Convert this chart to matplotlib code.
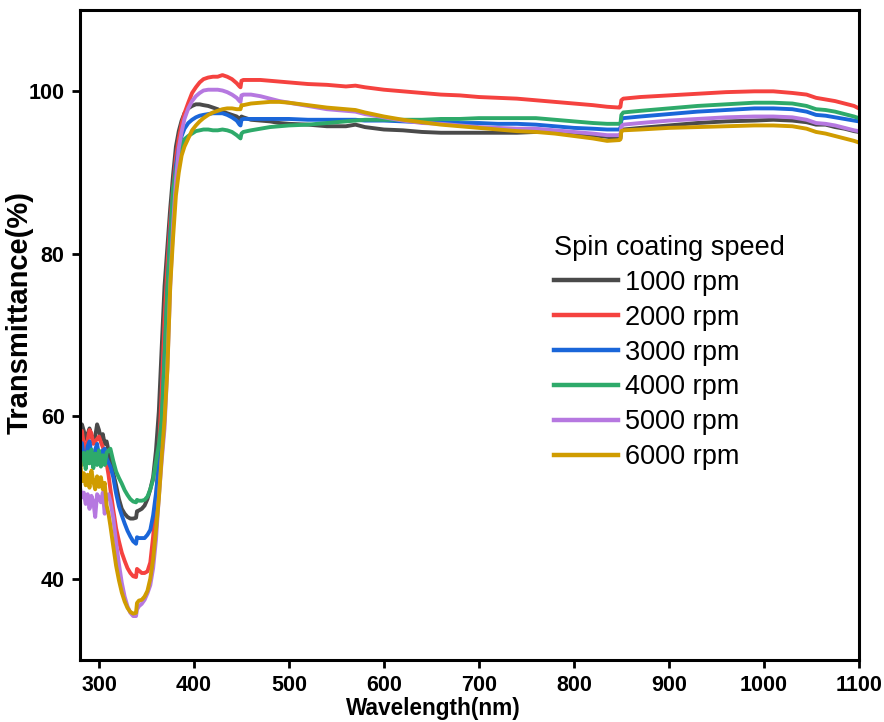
import matplotlib
matplotlib.use("Agg")
import matplotlib.pyplot as plt

# Wavelength grid (nm) shared by all spectra
wavelength = [
    280, 282, 284, 286, 288, 290, 292, 294, 296, 298,
    300, 302, 304, 306, 308, 310, 312, 315, 318, 321,
    324, 327, 330, 333, 336, 339, 340, 342, 345, 348,
    351, 354, 357, 360, 363, 366, 369, 372, 375, 378,
    381, 384, 387, 390, 394, 398, 402, 406, 410, 415,
    420, 425, 430, 435, 440, 445, 448, 449, 450, 452,
    460, 470, 480, 490, 500, 520, 540, 560, 570, 580,
    600, 620, 640, 660, 680, 700, 720, 740, 760, 780,
    800, 820, 835, 848, 849, 850, 852, 870, 900, 930,
    960, 990, 1010, 1030, 1045, 1055, 1065, 1075, 1085, 1095,
    1100,
]

# Transmittance (%) for each spin coating speed
t_1000 = [
    58.0, 59.0, 58.2, 57.2, 57.8, 58.5, 57.6, 56.9, 57.5, 59.0,
    58.3, 57.2, 57.8, 56.6, 56.9, 55.8, 54.5, 53.0, 51.5, 49.8,
    48.6, 48.0, 47.6, 47.4, 47.4, 47.5, 48.3, 48.4, 48.6, 49.0,
    49.8, 51.0, 52.5, 55.8, 60.6, 68.4, 76.0, 80.8, 85.6, 89.7,
    93.2, 95.1, 96.4, 97.3, 97.9, 98.2, 98.4, 98.4, 98.3, 98.2,
    98.0, 97.8, 97.5, 97.3, 97.1, 96.9, 96.6, 96.5, 96.9, 96.8,
    96.5, 96.4, 96.3, 96.1, 96.0, 95.9, 95.7, 95.7, 95.9, 95.6,
    95.3, 95.2, 95.0, 94.9, 94.9, 94.9, 94.9, 94.9, 95.0, 95.0,
    94.8, 94.6, 94.4, 94.2, 94.2, 95.2, 95.3, 95.5, 95.8, 96.1,
    96.3, 96.4, 96.5, 96.4, 96.2, 95.9, 95.9, 95.6, 95.4, 95.1,
    95.0,
]
t_2000 = [
    57.5, 58.2, 56.5, 55.8, 57.0, 58.3, 57.9, 56.6, 56.9, 57.2,
    57.5, 56.8, 56.2, 55.6, 54.2, 52.8, 51.0, 48.5, 46.2, 44.6,
    43.2, 42.2, 41.3, 40.7, 40.3, 40.2, 41.2, 41.0, 40.7, 40.7,
    40.9, 42.0, 45.2, 49.5, 55.5, 63.0, 72.0, 78.5, 84.0, 88.0,
    91.8, 94.2, 96.0, 97.3, 98.6, 99.8, 100.5, 101.1, 101.5, 101.7,
    101.8, 101.8, 102.0, 101.8, 101.5, 101.0, 100.6, 100.5, 101.3, 101.4,
    101.4, 101.4, 101.3, 101.2, 101.1, 100.9, 100.8, 100.6, 100.7, 100.5,
    100.2, 100.0, 99.8, 99.6, 99.5, 99.3, 99.2, 99.1, 98.9, 98.7,
    98.5, 98.3, 98.1, 98.0, 98.1, 98.9, 99.1, 99.3, 99.5, 99.7,
    99.9, 100.0, 100.0, 99.8, 99.6, 99.2, 99.0, 98.8, 98.5, 98.2,
    97.9,
]
t_3000 = [
    55.5, 56.7, 55.0, 54.2, 56.3, 56.9, 55.4, 54.3, 55.9, 56.6,
    55.0, 54.2, 55.8, 56.0, 54.8, 54.3, 53.8, 52.5, 50.5, 48.9,
    47.8, 46.8, 45.9, 45.2, 44.6, 44.3, 45.1, 45.0, 45.0, 45.0,
    45.4, 46.0, 47.8, 50.5, 54.0, 58.5, 67.0, 75.5, 82.5, 87.5,
    90.8, 93.0, 94.5, 95.4, 96.1, 96.5, 96.8, 97.0, 97.1, 97.2,
    97.3, 97.3, 97.3, 97.1, 96.8, 96.4, 95.9, 95.8, 96.5, 96.6,
    96.6, 96.6, 96.6, 96.6, 96.6, 96.5, 96.5, 96.5, 96.5, 96.4,
    96.4, 96.3, 96.2, 96.2, 96.1, 96.1, 96.0, 96.0, 95.9, 95.7,
    95.5, 95.4, 95.3, 95.3, 95.3, 96.5, 96.7, 96.9, 97.2, 97.5,
    97.7, 97.9, 97.9, 97.8, 97.5, 97.1, 97.0, 96.8, 96.6, 96.4,
    96.3,
]
t_4000 = [
    55.8, 54.0, 55.5, 53.5, 55.6, 54.2, 55.9, 53.6, 55.4, 54.0,
    55.8, 53.8, 55.2, 54.0, 55.5, 55.8, 56.0, 54.5, 53.2, 52.4,
    51.7, 50.9, 50.3, 49.8, 49.5, 49.4, 49.7, 49.6, 49.6, 49.7,
    50.1, 51.0, 52.2, 54.4, 56.5, 59.5, 67.4, 75.6, 81.8, 88.0,
    90.2, 92.3, 93.2, 94.1, 94.5, 94.8, 95.1, 95.2, 95.3, 95.3,
    95.2, 95.2, 95.3, 95.2, 95.0, 94.6, 94.3, 94.2, 94.8, 95.0,
    95.2, 95.4, 95.6, 95.7, 95.8, 95.9, 96.1, 96.3, 96.4, 96.5,
    96.5, 96.5, 96.5, 96.6, 96.6, 96.7, 96.7, 96.7, 96.7, 96.5,
    96.3, 96.1, 96.0, 96.0, 96.0, 97.1, 97.4, 97.6, 97.9, 98.2,
    98.4, 98.6, 98.6, 98.5, 98.2, 97.8, 97.7, 97.5, 97.2, 96.9,
    96.7,
]
t_5000 = [
    51.2, 50.0, 50.6, 49.2, 50.4, 48.6, 50.2, 49.5, 47.6, 50.4,
    50.0, 49.4, 50.6, 48.0, 50.2, 50.4, 49.5, 47.5, 44.5, 41.8,
    39.5, 37.8, 36.6, 35.8, 35.4, 35.4, 36.2, 36.6, 36.9, 37.4,
    38.2, 39.2, 41.3, 44.8, 50.0, 54.5, 58.5, 66.0, 76.0, 83.5,
    89.0, 93.0, 95.0, 96.6, 97.9, 98.8, 99.4, 99.8, 100.1, 100.2,
    100.2, 100.2, 100.1, 99.9, 99.6, 99.2, 98.8, 98.7, 99.5, 99.6,
    99.6, 99.4, 99.1, 98.8, 98.6, 98.2, 97.8, 97.6, 97.5, 97.2,
    96.8, 96.4, 96.1, 96.0, 95.8, 95.6, 95.5, 95.4, 95.4, 95.2,
    95.0, 94.8, 94.6, 94.6, 94.6, 95.7, 95.9, 96.1, 96.4, 96.6,
    96.8, 96.9, 96.9, 96.8, 96.5, 96.1, 96.0, 95.8, 95.5, 95.2,
    95.1,
]
t_6000 = [
    54.6, 52.0, 53.0, 51.5, 52.8, 51.2, 53.3, 52.0, 51.0, 52.6,
    51.3, 52.5, 51.0, 51.8, 49.0, 48.0, 46.5, 44.0, 41.6, 39.8,
    38.3, 37.2, 36.4, 35.9, 35.7, 35.8, 37.0, 37.3, 37.4, 37.8,
    38.5, 40.0, 42.4, 46.0, 49.8, 55.0, 59.5, 65.7, 76.0, 82.0,
    87.2, 90.0, 92.1, 93.2, 94.2, 95.2, 95.8, 96.3, 96.7, 97.1,
    97.4, 97.6, 97.8, 97.9, 97.9, 97.8, 97.8, 97.8, 98.3, 98.3,
    98.5, 98.6, 98.7, 98.7, 98.6, 98.3, 98.0, 97.8, 97.7, 97.4,
    96.9, 96.5, 96.2, 95.9, 95.7, 95.5, 95.3, 95.1, 95.0, 94.8,
    94.5, 94.2, 93.9, 94.0, 94.1, 95.1, 95.2, 95.3, 95.5, 95.6,
    95.7, 95.8, 95.8, 95.7, 95.4, 95.0, 94.8, 94.5, 94.2, 93.9,
    93.7,
]

labels = ["1000 rpm", "2000 rpm", "3000 rpm", "4000 rpm", "5000 rpm", "6000 rpm"]
colors = ["#4a4a4a", "#f5423f", "#1a66d9", "#2eaa6a", "#b678e0", "#d09c00"]
series = [t_1000, t_2000, t_3000, t_4000, t_5000, t_6000]

x_ticks = [300, 400, 500, 600, 700, 800, 900, 1000, 1100]
y_ticks = [40, 60, 80, 100]

plt.rcParams["font.family"] = ["Liberation Sans", "DejaVu Sans"]

fig = plt.figure(figsize=(8.84, 7.22), dpi=100)
ax = fig.add_axes([0.0905, 0.086, 0.881, 0.9])

for ys, lab, col in zip(series, labels, colors):
    ax.plot(wavelength, ys, color=col, lw=2.8, label=lab, solid_joinstyle="round")

ax.set_xlim(280, 1100)
ax.set_ylim(30, 110)
ax.set_xticks(x_ticks)
ax.set_yticks(y_ticks)

for sp in ax.spines.values():
    sp.set_linewidth(2.2)
ax.tick_params(direction="out", length=5.5, width=2.0, labelsize=15.5, pad=5.5)
for lbl in ax.get_xticklabels() + ax.get_yticklabels():
    lbl.set_fontweight("bold")

ax.set_xlabel("Wavelength(nm)", fontsize=16.3, fontweight="bold")
ax.set_ylabel("Transmittance(%)", fontsize=21, fontweight="bold")
ax.xaxis.set_label_coords(0.454, -0.057)
ax.yaxis.set_label_coords(-0.060, 0.534)

leg = ax.legend(
    title="Spin coating speed", loc="upper left", bbox_to_anchor=(0.595, 0.671),
    frameon=False, fontsize=19.5, title_fontsize=19.5, handlelength=2.35,
    handletextpad=0.25, labelspacing=0.33, borderaxespad=0, alignment="left",
)
for h in leg.get_lines():
    h.set_linewidth(3.2)

fig.savefig("out.png", dpi=100)
